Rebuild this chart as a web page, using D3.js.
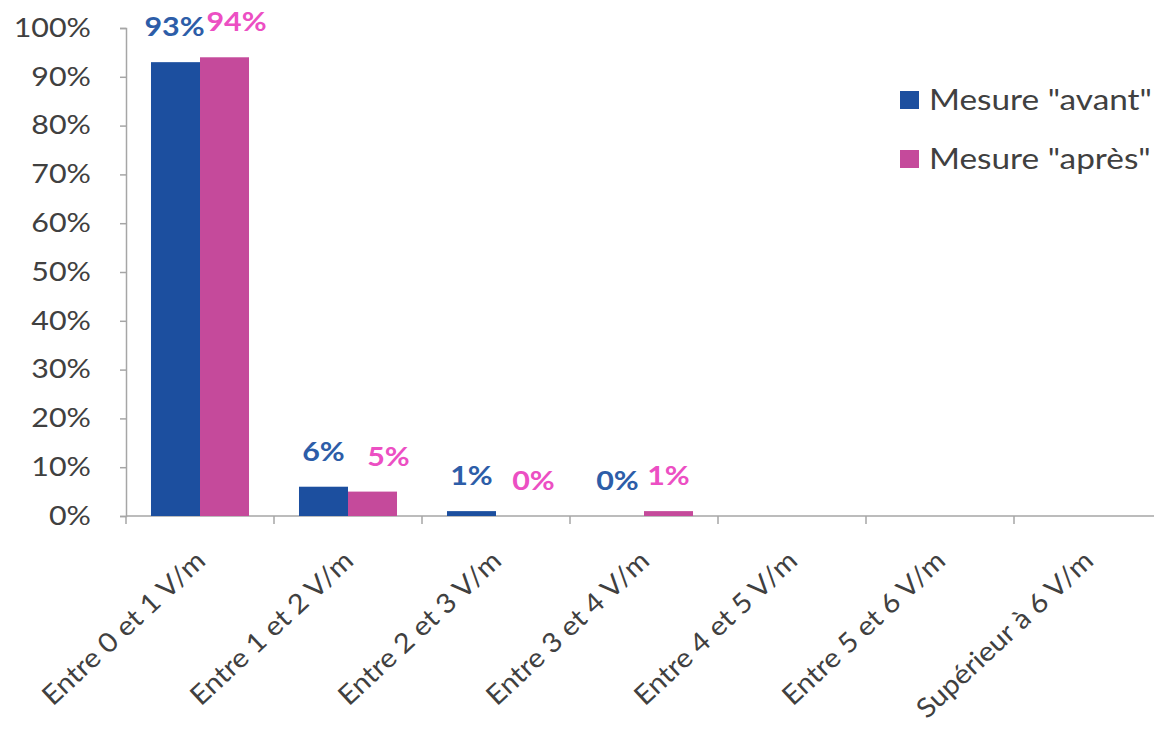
<!DOCTYPE html>
<html>
<head>
<meta charset="utf-8">
<script src="https://cdn.jsdelivr.net/npm/d3@7"></script>
<style>
  html, body { margin: 0; padding: 0; background: #fff; }
  svg { display: block; font-family: Lato, "Open Sans", sans-serif; }
</style>
</head>
<body>
<svg id="chart" width="1154" height="744"></svg>
<script>
// Répartition des mesures de champ électrique (V/m), avant et après
const categories = [
  "Entre 0 et 1 V/m", "Entre 1 et 2 V/m", "Entre 2 et 3 V/m", "Entre 3 et 4 V/m",
  "Entre 4 et 5 V/m", "Entre 5 et 6 V/m", "Supérieur à 6 V/m"
];
const seriesNames = ['Mesure "avant"', 'Mesure "après"'];
const avant = [93, 6, 1, 0, null, null, null];
const apres = [94, 5, 0, 1, null, null, null];
const yTicks = [0, 10, 20, 30, 40, 50, 60, 70, 80, 90, 100];

// Décalage horizontal des étiquettes de valeur (px) pour éviter les chevauchements
const labelShift = [
  [-1, 0, 0, -2, 0, 0, 0],
  [12, 16, 13, 0, 0, 0, 0]
];

const barColors = ["#1c4f9f", "#c54a9b"];
const labelColors = ["#2d5da8", "#ec4fc3"];
const axisColor = "#a6a6a6";
const textColor = "#404040";
const stretch = 1.17; // horizontal widening of the typeface

const svg = d3.select("#chart");
const margin = { left: 126, top: 28, bottom: 228 };
const plotRight = 1162;
const height = 744;

const x = d3.scaleBand().domain(categories).range([margin.left, plotRight]).paddingInner(0).paddingOuter(0);
const inner = d3.scaleBand().domain([0, 1]).range([0, x.bandwidth()]).paddingOuter(0.51).paddingInner(0);
const y = d3.scaleLinear().domain([0, 100]).range([height - margin.bottom, margin.top]);

// Axe vertical
const yAxis = svg.append("g")
  .attr("transform", `translate(${margin.left},0)`)
  .call(d3.axisLeft(y).tickValues(yTicks).tickSize(6).tickPadding(29).tickFormat(d => d + "%"));
yAxis.select(".domain").attr("stroke", axisColor).attr("stroke-width", 1.5);
yAxis.selectAll(".tick line").attr("stroke", axisColor).attr("stroke-width", 1.5);
yAxis.selectAll(".tick text")
  .attr("fill", textColor).attr("font-size", 26).attr("font-family", "Lato, sans-serif")
  .attr("transform", function () {
    const tx = +d3.select(this).attr("x");
    return `translate(${tx},0) scale(${stretch},1)`;
  })
  .attr("x", 0);

// Axe horizontal avec graduations entre les catégories
const xAxisG = svg.append("g").attr("transform", `translate(0,${y(0)})`);
xAxisG.append("line")
  .attr("x1", margin.left).attr("x2", plotRight)
  .attr("stroke", axisColor).attr("stroke-width", 1.5);
xAxisG.selectAll("line.tick")
  .data(categories)
  .join("line")
  .attr("class", "tick")
  .attr("x1", d => x(d)).attr("x2", d => x(d))
  .attr("y1", 0).attr("y2", 8)
  .attr("stroke", axisColor).attr("stroke-width", 1.5);

xAxisG.selectAll("text.cat")
  .data(categories)
  .join("text")
  .attr("class", "cat")
  .attr("transform", d => `translate(${x(d) + x.bandwidth() / 2 + 7},47) rotate(-43) scale(1.08,1)`)
  .attr("text-anchor", "end")
  .attr("fill", textColor)
  .attr("font-size", 27)
  .text(d => d);

// Barres et étiquettes de valeur
const series = [avant, apres];
series.forEach((vals, s) => {
  const pts = categories.map((c, i) => ({ c, i, v: vals[i] })).filter(d => d.v !== null);
  svg.append("g").selectAll("rect")
    .data(pts)
    .join("rect")
    .attr("x", d => x(d.c) + inner(s))
    .attr("width", inner.bandwidth())
    .attr("y", d => y(d.v))
    .attr("height", d => y(0) - y(d.v))
    .attr("fill", barColors[s]);

  svg.append("g").selectAll("text")
    .data(pts)
    .join("text")
    .attr("transform", d =>
      `translate(${x(d.c) + inner(s) + inner.bandwidth() / 2 + labelShift[s][d.i]},${y(d.v) - 35}) scale(${stretch},1)`)
    .attr("dy", "0.35em")
    .attr("text-anchor", "middle")
    .attr("font-size", 26)
    .attr("font-weight", "bold")
    .attr("fill", labelColors[s])
    .text(d => d.v + "%");
});

// Légende
const legend = svg.append("g").attr("transform", "translate(900,100)");
seriesNames.forEach((name, i) => {
  const g = legend.append("g").attr("transform", `translate(0,${i * 59})`);
  g.append("rect").attr("x", 0).attr("y", -9).attr("width", 19).attr("height", 18).attr("fill", barColors[i]);
  g.append("text")
    .attr("transform", `translate(29,10) scale(${stretch - 0.02},1)`)
    .attr("font-size", 29).attr("fill", textColor).text(name);
});
</script>
</body>
</html>
